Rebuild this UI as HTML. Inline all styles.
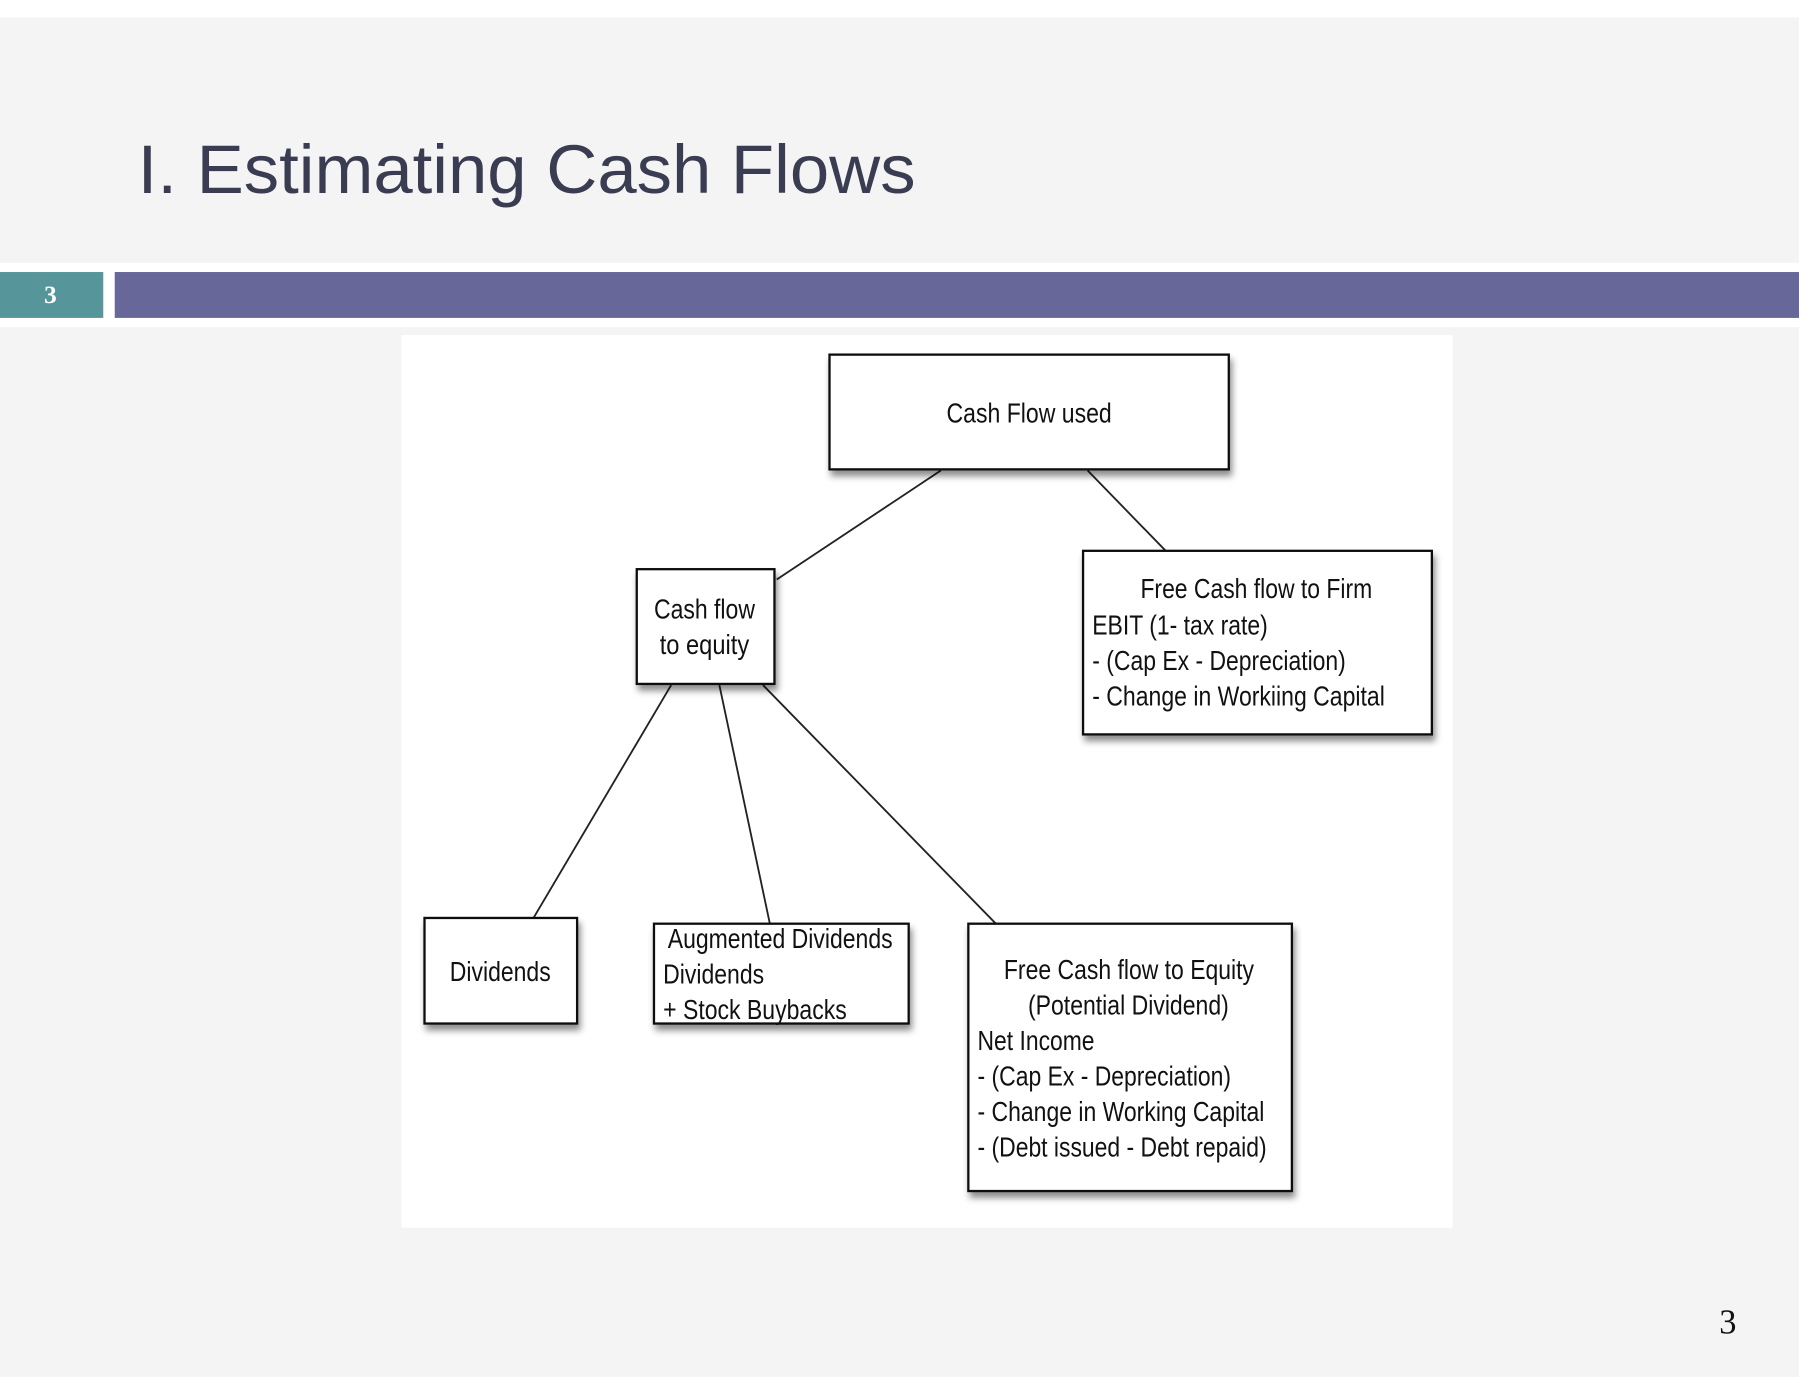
<!DOCTYPE html>
<html><head><meta charset="utf-8"><style>html,body{margin:0;padding:0;background:#f4f4f4}svg{display:block}</style></head>
<body>
<svg width="1799" height="1377" viewBox="0 0 1568 1200" xmlns="http://www.w3.org/2000/svg">
<defs><filter id="sh" x="-10%" y="-10%" width="130%" height="130%"><feDropShadow dx="2" dy="5" stdDeviation="3" flood-color="#000" flood-opacity="0.45"/></filter></defs>
<rect width="1568" height="1200" fill="#f4f4f4"/>
<rect width="1568" height="15" fill="#fff"/>
<text x="120" y="168" font-family="Liberation Sans, sans-serif" font-size="60" fill="#3a3d52" textLength="678" lengthAdjust="spacingAndGlyphs">I. Estimating Cash Flows</text>
<rect x="0" y="229" width="1568" height="56" fill="#fff"/>
<rect x="0" y="237" width="90" height="40" fill="#56969a"/>
<rect x="100" y="237" width="1468" height="40" fill="#676899"/>
<text x="44" y="264" text-anchor="middle" font-family="Liberation Serif, serif" font-weight="bold" font-size="22" fill="#fff">3</text>
<text x="1506" y="1162" text-anchor="middle" font-family="Liberation Serif, serif" font-size="30" fill="#111">3</text>
<rect x="350" y="292" width="916" height="778" fill="#fff"/>
<g stroke="#222" stroke-width="1.6">
<line x1="820" y1="410" x2="677" y2="505"/>
<line x1="948" y1="410" x2="1016" y2="480"/>
<line x1="585" y1="597" x2="465" y2="800"/>
<line x1="627" y1="597" x2="671" y2="805"/>
<line x1="665" y1="597" x2="868" y2="805"/>
</g>
<g fill="#fff" stroke="#111" stroke-width="2" filter="url(#sh)">
<rect x="723" y="309" width="348" height="100"/>
<rect x="555" y="496" width="120" height="100"/>
<rect x="944" y="480" width="304" height="160"/>
<rect x="370" y="800" width="133" height="92"/>
<rect x="570" y="805" width="222" height="87"/>
<rect x="844" y="805" width="282" height="233"/>
</g>
<g font-family="Liberation Sans, sans-serif" font-size="24" fill="#111">
<text x="897" y="368" text-anchor="middle" textLength="144" lengthAdjust="spacingAndGlyphs">Cash Flow used</text>
<text x="614" y="539" text-anchor="middle" textLength="88" lengthAdjust="spacingAndGlyphs">Cash flow</text>
<text x="614" y="570" text-anchor="middle" textLength="78" lengthAdjust="spacingAndGlyphs">to equity</text>
<text x="994" y="521" textLength="202" lengthAdjust="spacingAndGlyphs">Free Cash flow to Firm</text>
<text x="952" y="553" textLength="153" lengthAdjust="spacingAndGlyphs">EBIT (1- tax rate)</text>
<text x="952" y="584" textLength="221" lengthAdjust="spacingAndGlyphs">- (Cap Ex - Depreciation)</text>
<text x="952" y="615" textLength="255" lengthAdjust="spacingAndGlyphs">- Change in Workiing Capital</text>
<text x="392" y="855" textLength="88" lengthAdjust="spacingAndGlyphs">Dividends</text>
<text x="582" y="826" textLength="196" lengthAdjust="spacingAndGlyphs">Augmented Dividends</text>
<text x="578" y="857" textLength="88" lengthAdjust="spacingAndGlyphs">Dividends</text>
<text x="578" y="888" textLength="160" lengthAdjust="spacingAndGlyphs">+ Stock Buybacks</text>
<text x="875" y="853" textLength="218" lengthAdjust="spacingAndGlyphs">Free Cash flow to Equity</text>
<text x="896" y="884" textLength="175" lengthAdjust="spacingAndGlyphs">(Potential Dividend)</text>
<text x="852" y="915" textLength="102" lengthAdjust="spacingAndGlyphs">Net Income</text>
<text x="852" y="946" textLength="221" lengthAdjust="spacingAndGlyphs">- (Cap Ex - Depreciation)</text>
<text x="852" y="977" textLength="250" lengthAdjust="spacingAndGlyphs">- Change in Working Capital</text>
<text x="852" y="1008" textLength="252" lengthAdjust="spacingAndGlyphs">- (Debt issued - Debt repaid)</text>
</g>
</svg>
</body></html>
